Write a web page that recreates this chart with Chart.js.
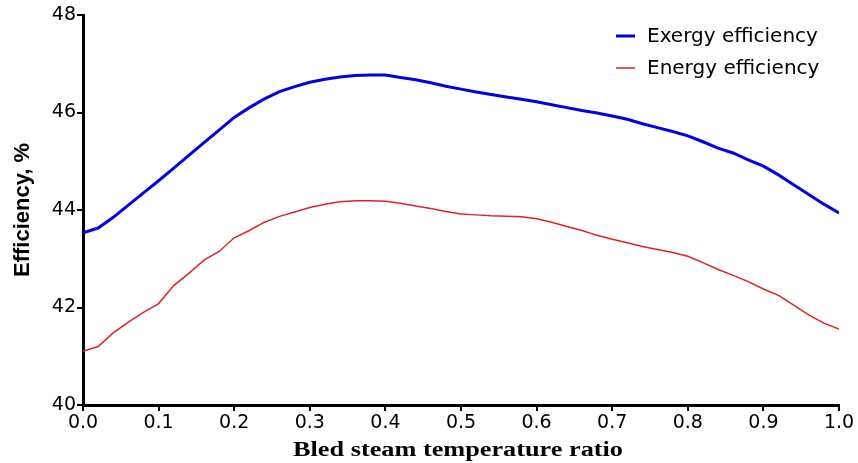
<!DOCTYPE html>
<html>
<head>
<meta charset="utf-8">
<script src="https://cdn.jsdelivr.net/npm/chart.js@4.4.0/dist/chart.umd.min.js"></script>
<style>
  html, body { margin: 0; padding: 0; background: #fff; }
  #wrap { width: 858px; height: 463px; }
</style>
</head>
<body>
<div id="wrap"><canvas id="chart" width="858" height="463"></canvas></div>
<script>
// bled steam temperature ratio, step 0.02
const ratio = [0.00, 0.02, 0.04, 0.06, 0.08, 0.10, 0.12, 0.14, 0.16, 0.18,
               0.20, 0.22, 0.24, 0.26, 0.28, 0.30, 0.32, 0.34, 0.36, 0.38,
               0.40, 0.42, 0.44, 0.46, 0.48, 0.50, 0.52, 0.54, 0.56, 0.58,
               0.60, 0.62, 0.64, 0.66, 0.68, 0.70, 0.72, 0.74, 0.76, 0.78,
               0.80, 0.82, 0.84, 0.86, 0.88, 0.90, 0.92, 0.94, 0.96, 0.98, 1.00];

const exergy = [43.53, 43.63, 43.85, 44.10, 44.35, 44.60, 44.86, 45.12, 45.38, 45.64,
                45.90, 46.10, 46.28, 46.43, 46.53, 46.62, 46.68, 46.73, 46.76, 46.77,
                46.77, 46.72, 46.67, 46.61, 46.54, 46.48, 46.42, 46.37, 46.32, 46.27,
                46.22, 46.16, 46.10, 46.04, 45.99, 45.93, 45.86, 45.77, 45.69, 45.61,
                45.52, 45.40, 45.27, 45.17, 45.03, 44.90, 44.72, 44.52, 44.32, 44.12, 43.94];

const energy = [41.10, 41.20, 41.48, 41.70, 41.90, 42.08, 42.45, 42.70, 42.97, 43.15,
                43.43, 43.58, 43.75, 43.87, 43.96, 44.05, 44.12, 44.17, 44.19, 44.19,
                44.18, 44.14, 44.08, 44.03, 43.97, 43.92, 43.90, 43.88, 43.87, 43.86,
                43.82, 43.75, 43.66, 43.58, 43.48, 43.40, 43.33, 43.25, 43.19, 43.13,
                43.05, 42.92, 42.78, 42.66, 42.53, 42.38, 42.25, 42.05, 41.85, 41.68, 41.56];

const yTicks = [40, 42, 44, 46, 48];
const xTitle = "Bled steam temperature ratio";

const toPoints = (ys) => ratio.map((x, i) => ({ x: x, y: ys[i] }));

// stacked legend top right + the wide serif x title (the source text is stretched sideways)
const extras = {
  id: "extras",
  afterDraw(chart) {
    const ctx = chart.ctx;
    const area = chart.chartArea;
    ctx.save();
    ctx.font = "20px 'DejaVu Sans', sans-serif";
    ctx.textBaseline = "middle";
    ctx.textAlign = "left";
    chart.data.datasets.forEach((ds, i) => {
      const y = 36 + i * 32;
      ctx.strokeStyle = ds.borderColor;
      ctx.lineWidth = ds.borderWidth;
      ctx.beginPath();
      ctx.moveTo(616, y);
      ctx.lineTo(635, y);
      ctx.stroke();
      ctx.fillStyle = "#000";
      ctx.fillText(ds.label, 647, y + 1);
    });

    ctx.font = "bold 20px 'Liberation Serif', 'Times New Roman', serif";
    ctx.textAlign = "center";
    ctx.textBaseline = "alphabetic";
    const w = ctx.measureText(xTitle).width;
    const sx = 330 / w;
    ctx.translate((area.left + area.right) / 2 - 3, 456);
    ctx.scale(sx, 1);
    ctx.fillText(xTitle, 0, 0);
    ctx.restore();
  }
};

new Chart(document.getElementById("chart"), {
  type: "line",
  data: {
    datasets: [
      {
        label: "Exergy efficiency",
        data: toPoints(exergy),
        borderColor: "#0000e0",
        borderWidth: 3,
        pointRadius: 0,
        tension: 0
      },
      {
        label: "Energy efficiency",
        data: toPoints(energy),
        borderColor: "#dd2424",
        borderWidth: 1.5,
        pointRadius: 0,
        tension: 0
      }
    ]
  },
  options: {
    responsive: false,
    animation: false,
    layout: { padding: { top: 15, right: 19, left: 0, bottom: 0 } },
    plugins: {
      legend: { display: false },
      tooltip: { enabled: false }
    },
    scales: {
      x: {
        type: "linear",
        min: 0,
        max: 1,
        afterFit(scale) { scale.height = 58; },
        border: { display: true, color: "#000", width: 3 },
        grid: { drawOnChartArea: false, drawTicks: true, tickLength: 6, tickColor: "#000", lineWidth: 2 },
        ticks: {
          stepSize: 0.1,
          color: "#000",
          padding: 1,
          maxRotation: 0,
          font: { family: "'DejaVu Sans', sans-serif", size: 19 },
          callback: (v) => v.toFixed(1)
        },
        title: { display: false }
      },
      y: {
        type: "linear",
        min: 40,
        max: 48,
        afterFit(scale) { scale.width = 83; },
        afterBuildTicks(scale) { scale.ticks = yTicks.map((v) => ({ value: v })); },
        border: { display: true, color: "#000", width: 3 },
        grid: { drawOnChartArea: false, drawTicks: true, tickLength: 6, tickColor: "#000", lineWidth: 2 },
        ticks: {
          color: "#000",
          padding: 1,
          font: { family: "'DejaVu Sans', sans-serif", size: 19 }
        },
        title: {
          display: true,
          text: "Efficiency, %",
          color: "#000",
          padding: { top: 10, bottom: 0 },
          font: { family: "'Liberation Sans', Arial, sans-serif", size: 22, weight: "bold" }
        }
      }
    }
  },
  plugins: [extras]
});
</script>
</body>
</html>
